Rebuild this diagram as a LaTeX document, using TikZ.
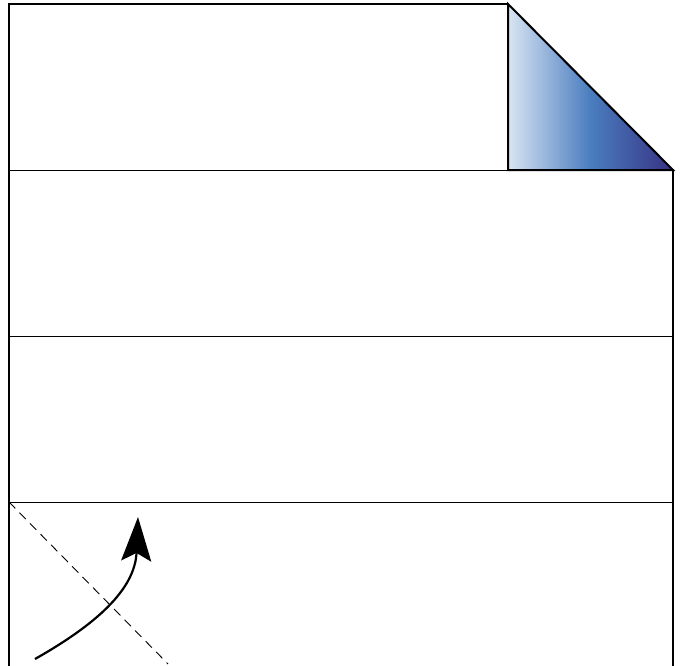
\documentclass[tikz,border=0pt]{standalone}
\usetikzlibrary{arrows.meta}
\definecolor{lightb}{HTML}{D8E5F3}
\definecolor{midb}{HTML}{4A7DBF}
\definecolor{darkb}{HTML}{373282}
\tikzset{
  border/.style={line width=2pt, line cap=rect},
  divider/.style={line width=1pt},
  foldline/.style={dashed, line width=0.9pt, dash pattern=on 9pt off 6pt},
  flap/.style={line width=2pt, line join=miter, left color=lightb, right color=darkb, middle color=midb},
  turn/.style={line width=2.2pt, -{Stealth[length=44pt,width=30pt,inset=8pt]}}
}
\begin{document}
\begin{tikzpicture}[x=1pt,y=-1pt]
\useasboundingbox (0,0) rectangle (683,665);
\coordinate (tl) at (9,4);
\coordinate (fa) at (508,4);
\coordinate (fb) at (508,170);
\coordinate (fc) at (673,170);
\coordinate (bl) at (9,666);
\coordinate (br) at (673,666);
% flap
\draw[flap] (fa) -- (fc) -- (fb) -- cycle;
% borders
\draw[border] (bl) -- (tl) -- (fa);
\draw[border] (fc) -- (br);
% dividers
\draw[divider] (9,170) -- (fb);
\draw[divider] (9,336) -- (673,336);
\draw[divider] (9,502) -- (673,502);
% fold line and arrow
\coordinate (d1) at (9,502);
\coordinate (d2) at (168,664);
\draw[foldline] (d1) -- (d2);
\coordinate (a1) at (35,659);
\coordinate (a2) at (138,517);
\draw[turn] (a1) .. controls (95,625) and (135,590) .. (a2);
\end{tikzpicture}
\end{document}
